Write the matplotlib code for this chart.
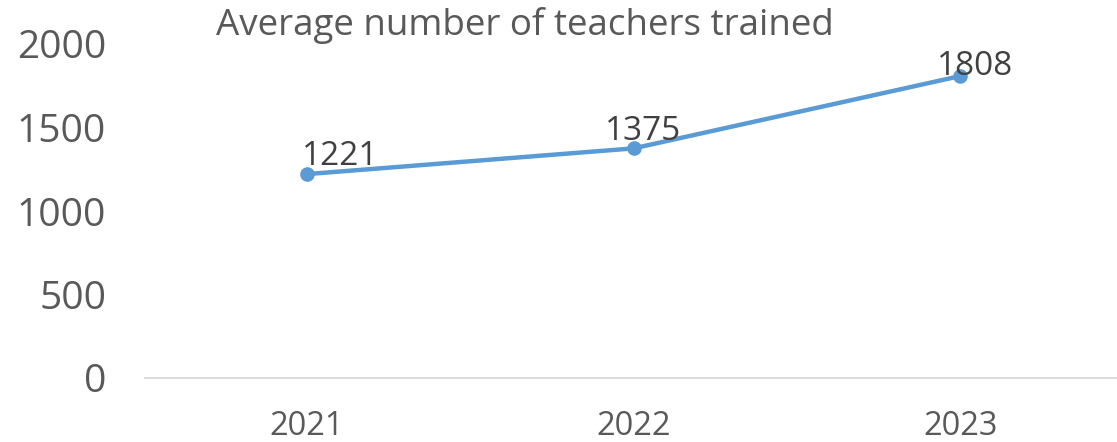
import matplotlib
matplotlib.use('Agg')
import matplotlib.pyplot as plt

years = ['2021', '2022', '2023']
teachers = [1221, 1375, 1808]
y_ticks = [0, 500, 1000, 1500, 2000]

# label offsets in pixels (left edge, baseline) relative to each point
label_offsets = [(-5, 9), (-29, 8), (-23, 1)]

plt.rcParams['font.family'] = ['Open Sans', 'DejaVu Sans']

fig = plt.figure(figsize=(11.17, 4.42), dpi=100)
ax = fig.add_axes([145/1117, 1 - 378/442, 1 - 145/1117, (378 - 44)/442])

x = list(range(len(years)))
ax.plot(x, teachers, color='#5B9BD5', lw=3.2, marker='o', markersize=9.5, solid_capstyle='round')

for xi, val, off in zip(x, teachers, label_offsets):
    ax.annotate(str(val), (xi, val), xytext=off, textcoords='offset pixels',
                ha='left', va='baseline', fontsize=24, color='#404040')

ax.set_xlim(-0.496, 2.48)
ax.set_ylim(0, 2000)
ax.set_xticks(x)
ax.set_xticklabels(years)
ax.set_yticks(y_ticks)
ax.tick_params(axis='both', length=0, labelcolor='#595959')
ax.tick_params(axis='x', pad=23, labelsize=23.5)
ax.tick_params(axis='y', pad=28, labelsize=28)

for side in ['top', 'right', 'left']:
    ax.spines[side].set_visible(False)
ax.spines['bottom'].set_color('#D9D9D9')
ax.spines['bottom'].set_linewidth(1.3)

fig.text(525/1117, 1 - 25/442, 'Average number of teachers trained', ha='center', va='center',
         fontsize=26.5, color='#595959')

fig.savefig('out.png', dpi=100)
